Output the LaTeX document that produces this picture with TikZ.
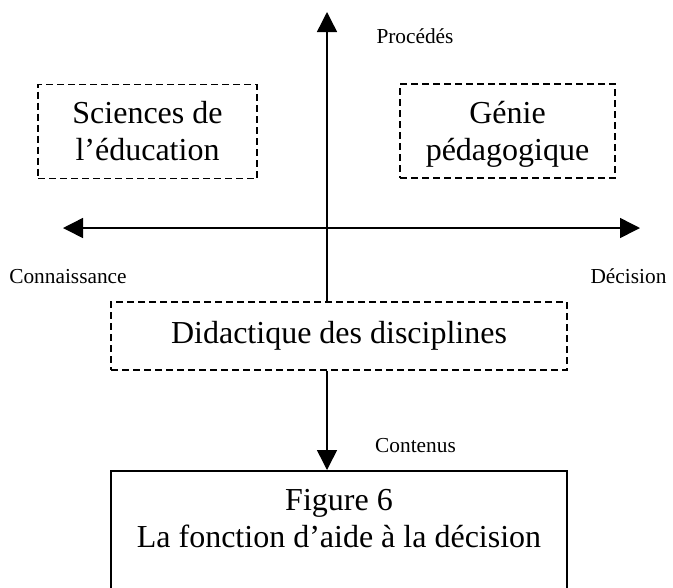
\documentclass[tikz,border=0pt]{standalone}
\usepackage{fontspec}
\setmainfont{Liberation Serif}
\usetikzlibrary{arrows.meta}
\begin{document}
\begin{tikzpicture}[x=0.75pt,y=-0.75pt,
  big/.style={font=\fontsize{24}{27.75}\selectfont},
  small/.style={font=\fontsize{16}{19}\selectfont},
  dashbox/.style={draw, line width=1.1pt, dash pattern=on 5.25pt off 3pt, big, align=center, inner sep=0pt},
  solidbox/.style={draw, line width=1.4pt, big, align=center, inner xsep=0pt},
  axis/.style={line width=1.1pt, -{Triangle[length=15pt,width=15pt]}},
  axislabel/.style={small, anchor=base, inner sep=0pt}]
\useasboundingbox (0,0) rectangle (673,587);
\clip (0,0) rectangle (673,587);

\node[dashbox, minimum width=164.25pt, minimum height=70.5pt] (sci) at (147.5,131.5) {Sciences de\\l’éducation};
\node[dashbox, minimum width=161.25pt, minimum height=70.5pt, text depth=0pt] (gen) at (507.5,131) {Génie\\pédagogique};
\node[dashbox, minimum width=342pt, minimum height=51pt] (dida) at (339,336) {Didactique des disciplines};
\node[solidbox, anchor=north, minimum width=342pt, inner ysep=13.5pt, text depth=100pt] (fig) at (339,470) {Figure 6\\La fonction d’aide à la décision};

\coordinate (L) at (63,228);
\coordinate (R) at (640,228);
\coordinate (T) at (327,12);

\draw[line width=1.1pt, {Triangle[length=15pt,width=15pt]}-{Triangle[length=15pt,width=15pt]}] (L) -- (R);
\draw[axis] (T |- dida.north) -- (T);
\draw[axis] (T |- dida.south) -- (T |- fig.north);

\node[axislabel] (proc) at (415,43) {Procédés};
\node[axislabel] (conn) at (68,283) {Connaissance};
\node[axislabel] (deci) at (628.5,283) {Décision};
\node[axislabel] (cont) at (415.5,452) {Contenus};
\end{tikzpicture}
\end{document}
